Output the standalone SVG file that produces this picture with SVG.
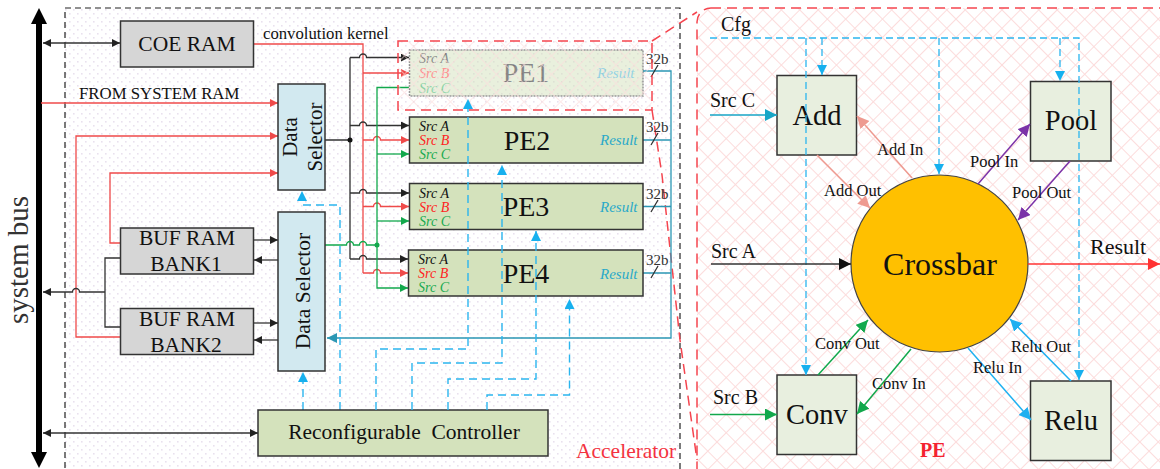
<svg xmlns="http://www.w3.org/2000/svg" width="1160" height="469" viewBox="0 0 1160 469">
<style>
text{font-family:"Liberation Serif","Times New Roman",serif;fill:#111}
.c{text-anchor:middle}
.box{stroke:#333;stroke-width:1.5}
.gray{fill:#d6d6d6}.sel{fill:#d2e9f0}.pe{fill:#d4e2bc}.fu{fill:#e8efdf}
.n{font-size:21.5px}.pt{font-size:28px}.fl{font-size:28.5px}.s{font-size:16.5px}
.i{font-size:14px;font-style:italic}.ia{fill:#111}.ib{fill:#f22}.ic{fill:#1aaa50}.ir{fill:#2aa9c9;font-size:15px;font-style:italic}
.w{font-size:15px;fill:#333}
path,line{fill:none}
.k{stroke:#333;stroke-width:1.3}.r{stroke:#ef4a4a;stroke-width:1.3}.g{stroke:#12a84c;stroke-width:1.3}
.t{stroke:#2b97b4;stroke-width:1.3}.d{stroke:#2bb5ee;stroke-width:1.4;stroke-dasharray:8 5}
.dc{stroke:#2bb5ee;stroke-width:1.3;stroke-dasharray:7 4}
.dr{stroke:#f5454f;stroke-width:1.5;stroke-dasharray:10 6}
</style>
<defs>
<pattern id="dots" width="8" height="8" patternUnits="userSpaceOnUse"><rect x="1" y="1" width="1.6" height="1.6" fill="#e9e1ee"/><rect x="5" y="5" width="1.6" height="1.6" fill="#e9e1ee"/></pattern>
<pattern id="hatch" width="13" height="13" patternUnits="userSpaceOnUse" patternTransform="rotate(45)"><path d="M0 0H13M0 0V13" stroke="#fcdcdc" stroke-width="2"/></pattern>
<marker id="ak" markerUnits="userSpaceOnUse" markerWidth="10" markerHeight="10" refX="8" refY="4" orient="auto-start-reverse"><path d="M0 0L8 4L0 8Z" style="fill:#222"/></marker>
<marker id="ar" markerUnits="userSpaceOnUse" markerWidth="10" markerHeight="10" refX="8" refY="4" orient="auto"><path d="M0 0L8 4L0 8Z" style="fill:#ef4a4a"/></marker>
<marker id="ag" markerUnits="userSpaceOnUse" markerWidth="10" markerHeight="10" refX="8" refY="4" orient="auto"><path d="M0 0L8 4L0 8Z" style="fill:#12a84c"/></marker>
<marker id="at" markerUnits="userSpaceOnUse" markerWidth="12" markerHeight="12" refX="10" refY="5" orient="auto"><path d="M0 0L10 5L0 10Z" style="fill:#2b97b4"/></marker>
<marker id="ad" markerUnits="userSpaceOnUse" markerWidth="12" markerHeight="12" refX="10" refY="5" orient="auto"><path d="M0 0L10 5L0 10Z" style="fill:#17b0ee"/></marker>
<marker id="bk" markerUnits="userSpaceOnUse" markerWidth="14" markerHeight="14" refX="12" refY="6" orient="auto"><path d="M0 0L12 6L0 12Z" style="fill:#111"/></marker>
<marker id="br" markerUnits="userSpaceOnUse" markerWidth="14" markerHeight="14" refX="12" refY="6" orient="auto"><path d="M0 0L12 6L0 12Z" style="fill:#f33"/></marker>
<marker id="bg" markerUnits="userSpaceOnUse" markerWidth="14" markerHeight="14" refX="12" refY="6" orient="auto"><path d="M0 0L12 6L0 12Z" style="fill:#12a84c"/></marker>
<marker id="bc" markerUnits="userSpaceOnUse" markerWidth="14" markerHeight="14" refX="12" refY="6" orient="auto"><path d="M0 0L12 6L0 12Z" style="fill:#17a5c6"/></marker>
<marker id="bs" markerUnits="userSpaceOnUse" markerWidth="14" markerHeight="14" refX="12" refY="6" orient="auto"><path d="M0 0L12 6L0 12Z" style="fill:#ee9a90"/></marker>
<marker id="bp" markerUnits="userSpaceOnUse" markerWidth="14" markerHeight="14" refX="12" refY="6" orient="auto"><path d="M0 0L12 6L0 12Z" style="fill:#7b32a8"/></marker>
<marker id="bb" markerUnits="userSpaceOnUse" markerWidth="14" markerHeight="14" refX="12" refY="6" orient="auto"><path d="M0 0L12 6L0 12Z" style="fill:#1fb0f0"/></marker>
</defs>

<g id="backgrounds">
<rect x="65" y="8" width="615" height="470" fill="url(#dots)" stroke="#222" stroke-width="1.2" stroke-dasharray="6 4"/>
<rect x="697" y="8" width="480" height="480" rx="14" class="dr" style="fill:url(#hatch)"/>
<path class="dr" d="M652 41L697 12M652 110L662 175L680 340L697 460"/>
</g>

<g id="system-bus">
<path d="M36 24H31L39 8L47 24H42V452H47L39 468L31 452H36Z" style="fill:#000"/>
<text transform="translate(28,260) rotate(-90)" class="c" font-size="29" style="fill:#333">system bus</text>
</g>

<g id="connectors">
<line class="k" x1="43" y1="43" x2="120" y2="43" marker-start="url(#ak)" marker-end="url(#ak)"/>
<line class="k" x1="43" y1="433" x2="258" y2="433" marker-start="url(#ak)" marker-end="url(#ak)"/>
<path class="r" d="M253 44H363V273"/>
<path class="r" d="M41 103H278" marker-end="url(#ar)"/>
<path class="r" d="M120 337H76V136H278" marker-end="url(#ar)"/>
<path class="r" d="M120 243H110V173H278" marker-end="url(#ar)"/>
<path class="k" d="M120 258H105V327H120"/>
<path class="k" d="M105 292H79.500a3.500 3.500 0 0 0-7 0H43" marker-end="url(#ak)"/>
<path class="k" d="M253 240H278" marker-end="url(#ak)"/>
<path class="k" d="M278 260H254" marker-end="url(#ak)"/>
<path class="k" d="M253 323H278" marker-end="url(#ak)"/>
<path class="k" d="M278 340H254" marker-end="url(#ak)"/>
<path class="k" d="M325 140H350M350 57.500V259"/>
<circle cx="350" cy="140" r="2.500" fill="#111"/>
<path class="k" d="M350 57.500H359.500a3.500 3.500 0 0 1 7 0H409" marker-end="url(#ak)"/>
<path class="k" d="M350 125.500H359.500a3.500 3.500 0 0 1 7 0H409" marker-end="url(#ak)"/>
<path class="k" d="M350 193H359.500a3.500 3.500 0 0 1 7 0H409" marker-end="url(#ak)"/>
<path class="k" d="M350 259H359.500a3.500 3.500 0 0 1 7 0H408" marker-end="url(#ak)"/>
<path class="r" d="M363 73H409" marker-end="url(#ar)"/>
<path class="r" d="M363 140H373.500a3.500 3.500 0 0 1 7 0H409" marker-end="url(#ar)"/>
<path class="r" d="M363 206.500H373.500a3.500 3.500 0 0 1 7 0H409" marker-end="url(#ar)"/>
<path class="r" d="M363 273H373.500a3.500 3.500 0 0 1 7 0H408" marker-end="url(#ar)"/>
<path class="g" d="M409 87.500H377V288H408" marker-end="url(#ag)"/>
<path class="g" d="M377 154H409" marker-end="url(#ag)"/>
<path class="g" d="M377 221H409" marker-end="url(#ag)"/>
<path class="g" d="M325 245H346.500a3.500 3.500 0 0 1 7 0H359.500a3.500 3.500 0 0 1 7 0H377"/>
<circle cx="377" cy="245" r="2.500" fill="#12a84c"/>
<path class="t" d="M643 71H671V338H327" marker-end="url(#at)"/>
<path class="t" d="M643 140H671M643 206.500H671M643 273H671"/>
<path class="k" d="M651 77L658 65M651 145L658 133M651 212L658 200M651 278L658 266"/>
<path class="d" d="M303 410V372" marker-end="url(#ad)"/>
<path class="d" d="M340 410V205H302V191" marker-end="url(#ad)"/>
</g>

<g id="coe-ram"><rect class="box gray" x="120.500" y="21" width="133" height="46"/><text class="n c" x="187" y="51">COE RAM</text></g>
<text id="lbl-conv" x="263" y="39" font-size="16.700">convolution kernel</text>
<text id="lbl-from" x="79" y="99" font-size="16.800">FROM SYSTEM RAM</text>
<g id="selector-top"><rect class="box sel" x="278" y="84" width="47" height="106"/>
<text class="c" font-size="21" transform="translate(297,137) rotate(-90)">Data</text>
<text class="c" font-size="21" transform="translate(322,137) rotate(-90)">Selector</text></g>
<g id="selector-bottom"><rect class="box sel" x="278" y="212" width="47" height="159"/>
<text class="c" font-size="21.500" transform="translate(310,291) rotate(-90)">Data Selector</text></g>
<g id="buf1"><rect class="box gray" x="120.500" y="228" width="133" height="46"/><text class="n c" x="187" y="245">BUF RAM</text><text class="n c" x="186" y="271">BANK1</text></g>
<g id="buf2"><rect class="box gray" x="120.500" y="308.500" width="133" height="46"/><text class="n c" x="187" y="326">BUF RAM</text><text class="n c" x="186" y="352">BANK2</text></g>
<g id="controller"><rect class="box pe" x="258" y="410" width="290" height="46"/><text class="c" font-size="21.500" xml:space="preserve" x="404" y="439">Reconfigurable  Controller</text></g>

<g id="pe1" opacity=".5"><rect class="box pe" x="409.500" y="50" width="233.500" height="46" style="stroke-dasharray:2 1"/>
<text class="pt c" x="526" y="82">PE1</text><text class="i ia" x="419" y="63">Src A</text><text class="i ib" x="419" y="78">Src B</text><text class="i ic" x="419" y="93">Src C</text><text class="ir" x="597" y="78">Result</text></g>
<text id="w1" class="w" x="646" y="64">32b</text>
<g id="pe1-highlight"><rect x="398" y="41" width="254" height="69" class="dr" style="fill:url(#hatch);fill-opacity:.6"/></g>
<g id="pe2"><rect class="box pe" x="409.500" y="117" width="233.500" height="46"/>
<text class="pt c" x="527" y="150">PE2</text><text class="i ia" x="419" y="131">Src A</text><text class="i ib" x="419" y="145">Src B</text><text class="i ic" x="419" y="159">Src C</text><text class="ir" x="600" y="145">Result</text></g>
<text id="w2" class="w" x="646" y="132">32b</text>
<g id="pe3"><rect class="box pe" x="409.500" y="183.500" width="233.500" height="46"/>
<text class="pt c" x="526" y="216">PE3</text><text class="i ia" x="419" y="198">Src A</text><text class="i ib" x="419" y="212">Src B</text><text class="i ic" x="419" y="226">Src C</text><text class="ir" x="600" y="212">Result</text></g>
<text id="w3" class="w" x="646" y="199">32b</text>
<g id="pe4"><rect class="box pe" x="408.500" y="250" width="234.500" height="46"/>
<text class="pt c" x="526" y="283">PE4</text><text class="i ia" x="418" y="264">Src A</text><text class="i ib" x="418" y="278">Src B</text><text class="i ic" x="418" y="292">Src C</text><text class="ir" x="600" y="279">Result</text></g>
<text id="w4" class="w" x="646" y="265">32b</text>
<text id="lbl-acc" x="576" y="458" font-size="21.500" style="fill:#f4333f">Accelerator</text>

<g id="cfg-connectors">
<path class="d" d="M376 410V349H468V99" marker-end="url(#ad)"/>
<path class="d" d="M412 410V363H502V165" marker-end="url(#ad)"/>
<path class="d" d="M448 410V379H536V231" marker-end="url(#ad)"/>
<path class="d" d="M487 410V395H569.500V299" marker-end="url(#ad)"/>
</g>

<g id="add"><rect class="box fu" x="777" y="75.500" width="79.500" height="79.500"/><text class="fl c" x="817" y="125">Add</text></g>
<g id="pool"><rect class="box fu" x="1030.500" y="81.500" width="80.500" height="79.500"/><text class="fl c" x="1071" y="130">Pool</text></g>
<g id="conv"><rect class="box fu" x="777" y="375" width="79.500" height="79.500"/><text class="fl c" x="817" y="424">Conv</text></g>
<g id="relu"><rect class="box fu" x="1030.500" y="381" width="80.500" height="79.500"/><text class="fl c" x="1071" y="430">Relu</text></g>
<g id="crossbar"><circle cx="939.500" cy="263.500" r="88.500" fill="#ffc000" stroke="#444" stroke-width="1.200"/><text class="c" font-size="32" x="940" y="275">Crossbar</text></g>
<g id="pe-connectors">
<path class="dc" d="M710 38H1079V380" marker-end="url(#ad)"/>
<path class="dc" d="M806 38V375" marker-end="url(#ad)"/>
<path class="dc" d="M822 38V75" marker-end="url(#ad)"/>
<path class="dc" d="M939 38V174" marker-end="url(#ad)"/>
<path class="dc" d="M1060 38V81" marker-end="url(#ad)"/>
</g>
<g id="pe-arrows">
<path d="M710 115H777" stroke="#17a5c6" stroke-width="1.500" marker-end="url(#bc)"/>
<path d="M711 264H851" stroke="#333" stroke-width="1.500" marker-end="url(#bk)"/>
<path d="M710 414.500H777" stroke="#12a84c" stroke-width="1.500" marker-end="url(#bg)"/>
<path d="M1028 264H1160" stroke="#f33" stroke-width="1.500" marker-end="url(#br)"/>
<path d="M912 178L857 116" stroke="#ee9a90" stroke-width="1.500" marker-end="url(#bs)"/>
<path d="M817 155L870 208" stroke="#ee9a90" stroke-width="1.500" marker-end="url(#bs)"/>
<path d="M978 184L1030 124" stroke="#7b32a8" stroke-width="1.500" marker-end="url(#bp)"/>
<path d="M1070 161L1018 220" stroke="#7b32a8" stroke-width="1.500" marker-end="url(#bp)"/>
<path d="M818 375L868 320" stroke="#12a84c" stroke-width="1.500" marker-end="url(#bg)"/>
<path d="M911 349L857 414" stroke="#12a84c" stroke-width="1.500" marker-end="url(#bg)"/>
<path d="M968 348L1031 420" stroke="#1fb0f0" stroke-width="1.500" marker-end="url(#bb)"/>
<path d="M1071 381L1010 319" stroke="#1fb0f0" stroke-width="1.500" marker-end="url(#bb)"/>
</g>
<g id="pe-labels">
<text x="721" y="31" font-size="20">Cfg</text>
<text x="710" y="107" font-size="20">Src C</text>
<text x="711" y="258" font-size="20">Src A</text>
<text x="713" y="404" font-size="20">Src B</text>
<text x="1090" y="254" font-size="22">Result</text>
<text class="s" x="877" y="155">Add In</text>
<text class="s" x="824" y="196">Add Out</text>
<text class="s" x="970" y="167">Pool In</text>
<text class="s" x="1012" y="198">Pool Out</text>
<text class="s" x="815" y="349">Conv Out</text>
<text class="s" x="872" y="389">Conv In</text>
<text class="s" x="973" y="373">Relu In</text>
<text class="s" x="1011" y="352">Relu Out</text>
<text x="920" y="457" font-size="20" font-weight="bold" style="fill:#f4222f">PE</text>
</g>
</svg>
